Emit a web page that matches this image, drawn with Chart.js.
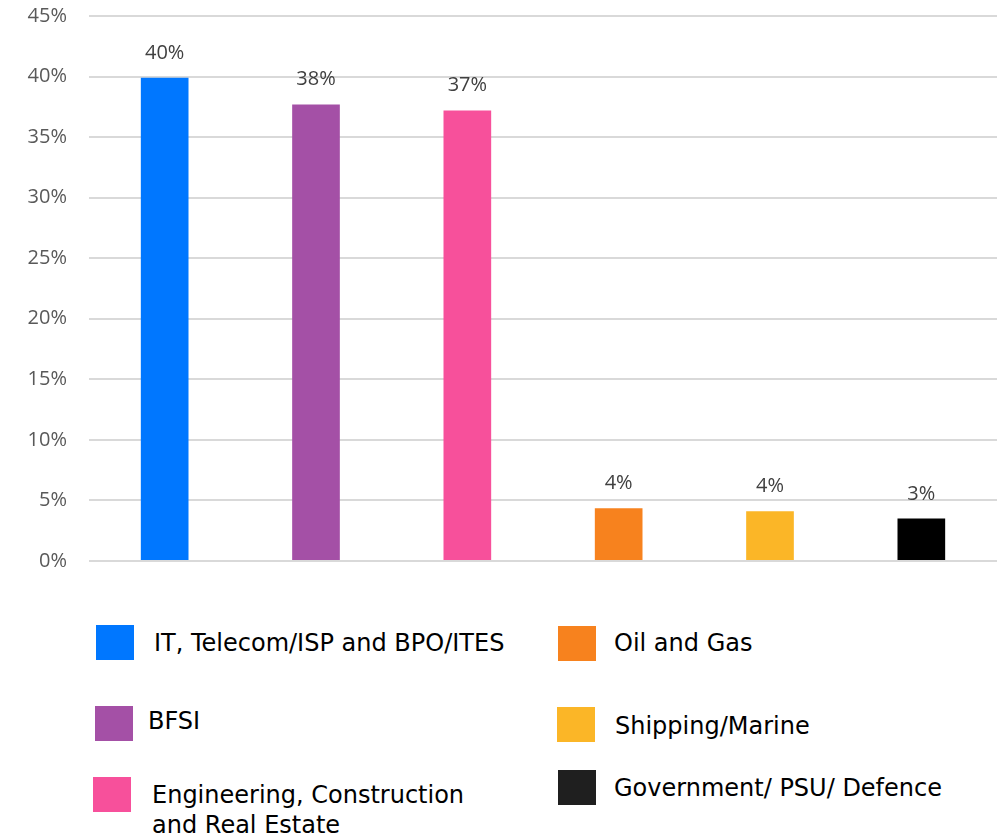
<!DOCTYPE html>
<html>
<head>
<meta charset="utf-8">
<script src="https://cdn.jsdelivr.net/npm/chart.js@4/dist/chart.umd.min.js"></script>
<style>
  html, body { margin: 0; padding: 0; background: #fff; }
  #wrap { position: relative; width: 1000px; height: 838px; overflow: hidden; }
  #chartBox { position: absolute; left: 0; top: 0; width: 1000px; height: 600px; }
  .lg { position: absolute; font-family: "DejaVu Sans", sans-serif; font-size: 24px; color: #000; line-height: 30px; white-space: nowrap; }
  .sw { position: absolute; width: 38px; height: 35px; }
</style>
</head>
<body>
<div id="wrap">
  <div id="chartBox"><canvas id="c"></canvas></div>
  <div id="legend"></div>
</div>
<script>
const categories = [
  "IT, Telecom/ISP and BPO/ITES",
  "BFSI",
  "Engineering, Construction\nand Real Estate",
  "Oil and Gas",
  "Shipping/Marine",
  "Government/ PSU/ Defence"
];
const values = [39.9, 37.7, 37.2, 4.35, 4.1, 3.5];
const valueLabels = ["40%", "38%", "37%", "4%", "4%", "3%"];
const colors = ["#0077FF", "#A450A6", "#F7509B", "#F7821E", "#FBB627", "#000000"];
const yTicks = [0, 5, 10, 15, 20, 25, 30, 35, 40, 45];

// legend layout (position of each entry: box left/top, text left/top)
const legendPos = [
  { bx: 96, by: 625, tx: 154, ty: 628 },
  { bx: 95, by: 706, tx: 148, ty: 706 },
  { bx: 93, by: 777, tx: 152, ty: 780 },
  { bx: 558, by: 626, tx: 614, ty: 628 },
  { bx: 557, by: 707, tx: 615, ty: 711 },
  { bx: 558, by: 770, tx: 614, ty: 773 }
];

const legend = document.getElementById('legend');
categories.forEach((name, i) => {
  const p = legendPos[i];
  const sw = document.createElement('div');
  sw.className = 'sw';
  sw.style.left = p.bx + 'px';
  sw.style.top = p.by + 'px';
  sw.style.background = i === 5 ? '#1F1F1F' : colors[i];
  legend.appendChild(sw);
  const t = document.createElement('div');
  t.className = 'lg';
  t.style.left = p.tx + 'px';
  t.style.top = p.ty + 'px';
  t.innerHTML = name.split('\n').join('<br>');
  legend.appendChild(t);
});

const labelPlugin = {
  id: 'valueLabels',
  afterDatasetsDraw(chart) {
    const ctx = chart.ctx;
    const meta = chart.getDatasetMeta(0);
    ctx.save();
    ctx.font = '20px "Open Sans", sans-serif';
    ctx.fillStyle = '#404040';
    ctx.textAlign = 'center';
    ctx.textBaseline = 'alphabetic';
    meta.data.forEach((bar, i) => {
      ctx.fillText(valueLabels[i], bar.x, bar.y - 19);
    });
    ctx.restore();
  }
};

new Chart(document.getElementById('c'), {
  type: 'bar',
  data: {
    labels: categories,
    datasets: [{
      data: values,
      backgroundColor: colors,
      borderWidth: 0,
      categoryPercentage: 1,
      barPercentage: 0.315
    }]
  },
  options: {
    responsive: true,
    maintainAspectRatio: false,
    animation: false,
    layout: { padding: { top: 16, right: 3, bottom: 39, left: 0 } },
    plugins: { legend: { display: false }, tooltip: { enabled: false } },
    scales: {
      x: { display: false },
      y: {
        min: 0, max: 45,
        afterBuildTicks(scale) { scale.ticks = yTicks.map(v => ({ value: v })); },
        afterFit(scale) { scale.width = 89; },
        border: { display: false },
        grid: { color: '#D9D9D9', lineWidth: 2, drawTicks: true, tickLength: 22, tickColor: 'rgba(0,0,0,0)' },
        ticks: {
          padding: 0,
          color: '#595959',
          font: { family: '"Open Sans", sans-serif', size: 20 },
          callback: v => v + '%'
        }
      }
    }
  },
  plugins: [labelPlugin]
});
</script>
</body>
</html>
